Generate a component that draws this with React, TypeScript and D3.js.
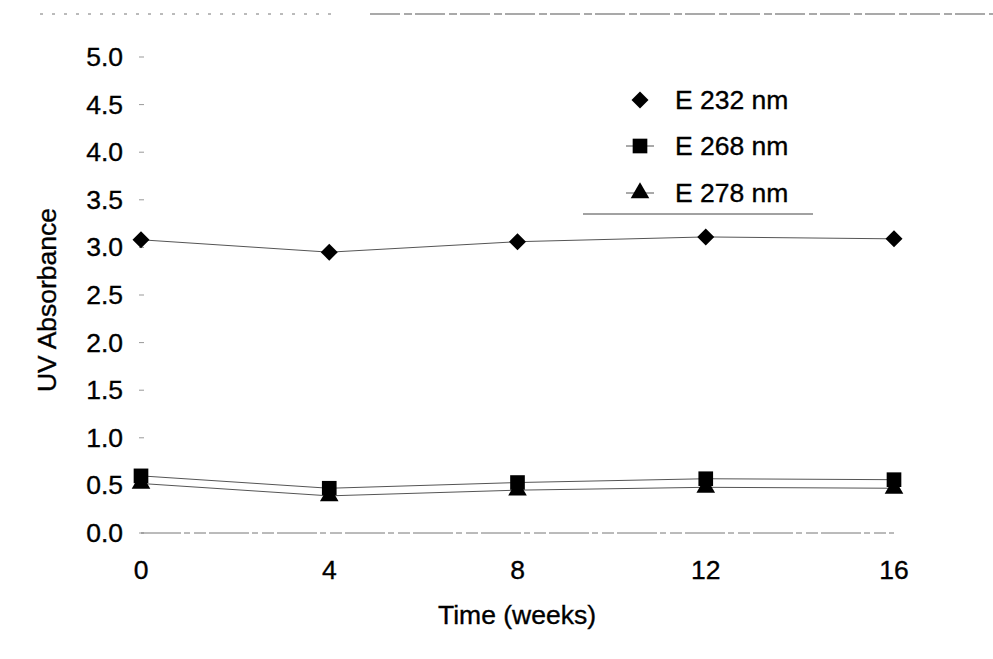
import React from "react";
import * as d3 from "d3";

const weeks = [0, 4, 8, 12, 16];
const e232 = [3.08, 2.95, 3.06, 3.11, 3.09];
const e268 = [0.6, 0.47, 0.53, 0.57, 0.56];
const e278 = [0.52, 0.39, 0.45, 0.48, 0.47];
const yTicks = [0, 0.5, 1, 1.5, 2, 2.5, 3, 3.5, 4, 4.5, 5];
const seriesNames = ["E 232 nm", "E 268 nm", "E 278 nm"];

const W = 993;
const H = 659;
const FONT = "'Liberation Sans', Arial, Helvetica, sans-serif";
const FS = 26.5;

const x = d3.scaleLinear().domain([0, 16]).range([141, 894]);
const y = d3.scaleLinear().domain([0, 5]).range([533, 57]);

const line = d3
  .line<number>()
  .x((_, i) => x(weeks[i]))
  .y((d) => y(d));

const diamondPath = d3.symbol(d3.symbolSquare, 145)()!;
const squarePath = d3.symbol(d3.symbolSquare, 215)()!;
const trianglePath = d3.symbol(d3.symbolTriangle, 150)()!;

const series = [
  { name: seriesNames[0], values: e232, path: diamondPath, rotate: 45 },
  { name: seriesNames[1], values: e268, path: squarePath, rotate: 0 },
  { name: seriesNames[2], values: e278, path: trianglePath, rotate: 0 },
];

const legendX = 640;
const legendYs = [100, 146, 193];

const textProps = {
  fontSize: FS,
  fill: "#000",
  stroke: "#000",
  strokeWidth: 0.35,
  dominantBaseline: "central" as const,
};

export default function App() {
  return (
    <svg
      width={W}
      height={H}
      viewBox={`0 0 ${W} ${H}`}
      style={{ position: "absolute", left: 0, top: 0, background: "#fff" }}
      fontFamily={FONT}
    >
      <rect width={W} height={H} fill="#fff" />
      {/* frame top edge, broken */}
      <line x1={40} x2={340} y1={14} y2={14} stroke="#777" strokeWidth={1} strokeDasharray="3 9" />
      <line x1={370} x2={993} y1={14} y2={14} stroke="#555" strokeWidth={1.2} strokeDasharray="30 4 8 3" />

      {/* y ticks */}
      {yTicks.map((t) => (
        <g key={t}>
          <line x1={139} x2={144} y1={y(t)} y2={y(t)} stroke="#999" strokeWidth={1} />
          <text x={123} y={y(t)} textAnchor="end" {...textProps}>
            {t.toFixed(1)}
          </text>
        </g>
      ))}

      {/* x axis */}
      <line
        x1={x(0)}
        x2={x(16)}
        y1={y(0)}
        y2={y(0)}
        stroke="#777"
        strokeWidth={1}
        strokeDasharray="40 3 6 4 12 3"
      />
      {weeks.map((w) => (
        <text key={w} x={x(w)} y={y(0) + 37} textAnchor="middle" {...textProps}>
          {w}
        </text>
      ))}

      <text x={517} y={615} textAnchor="middle" {...textProps}>
        Time (weeks)
      </text>
      <text transform={`translate(47,300) rotate(-90)`} textAnchor="middle" {...textProps}>
        UV Absorbance
      </text>

      {/* series */}
      {series.map((s) => (
        <g key={s.name}>
          <path d={line(s.values)!} fill="none" stroke="#555" strokeWidth={1} />
          {s.values.map((v, i) => (
            <path
              key={i}
              d={s.path}
              transform={`translate(${x(weeks[i])},${y(v)}) rotate(${s.rotate})`}
              fill="#000"
            />
          ))}
        </g>
      ))}

      {/* legend */}
      {series.map((s, i) => (
        <g key={s.name} transform={`translate(${legendX},${legendYs[i]})`}>
          {i > 0 && <line x1={-14} x2={14} y1={0} y2={0} stroke="#555" strokeWidth={1} />}
          <path d={s.path} transform={`rotate(${s.rotate})`} fill="#000" />
          <text x={35} y={0} {...textProps}>
            {s.name}
          </text>
        </g>
      ))}
      <line x1={583} x2={813} y1={214} y2={214} stroke="#444" strokeWidth={1} />
    </svg>
  );
}
